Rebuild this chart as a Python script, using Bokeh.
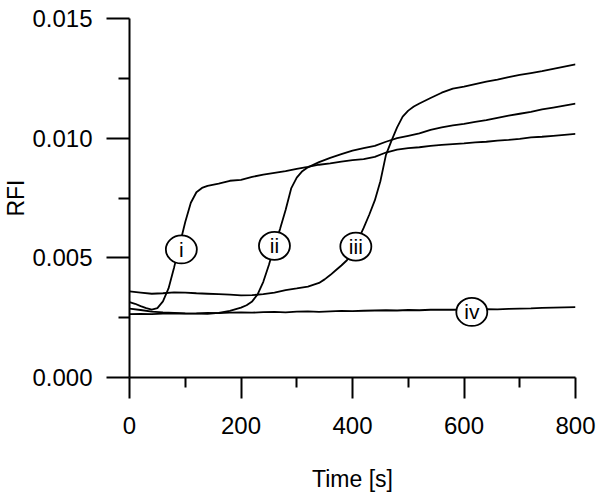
from bokeh.plotting import figure
from bokeh.models import Range1d, FixedTicker, PrintfTickFormatter
from bokeh.core.properties import value
from bokeh.embed import file_html
from bokeh.resources import INLINE

# ---- data ----
t_i = [0, 10, 20, 30, 40, 50, 60, 70, 80, 90, 100, 110, 120, 130, 140, 160, 180, 200, 220, 240,
       260, 280, 300, 320, 340, 360, 380, 400, 420, 440, 460, 480, 500, 520, 540, 560, 580, 600,
       620, 640, 660, 680, 700, 720, 740, 760, 780, 800]
rfi_i = [0.00315, 0.00308, 0.00298, 0.00290, 0.00284, 0.00290, 0.00318, 0.00372, 0.00460, 0.00555,
         0.00650, 0.00730, 0.00774, 0.00792, 0.00801, 0.00810, 0.00822, 0.00826, 0.00838, 0.00848,
         0.00855, 0.00862, 0.00872, 0.00880, 0.00889, 0.00895, 0.00902, 0.00908, 0.00912, 0.00922,
         0.00940, 0.00952, 0.00958, 0.00962, 0.00968, 0.00972, 0.00975, 0.00978, 0.00982, 0.00985,
         0.00990, 0.00993, 0.00997, 0.01003, 0.01006, 0.01010, 0.01014, 0.01018]

t_ii = [0, 20, 40, 60, 80, 100, 120, 140, 160, 180, 200, 210, 220, 230, 240, 250, 260, 270, 280,
        290, 300, 310, 320, 340, 360, 380, 400, 420, 440, 460, 480, 500, 520, 540, 560, 580, 600,
        620, 640, 660, 680, 700, 720, 740, 760, 780, 800]
rfi_ii = [0.00288, 0.00282, 0.00275, 0.00272, 0.00270, 0.00268, 0.00267, 0.00266, 0.00270, 0.00278,
          0.00292, 0.00302, 0.00318, 0.00348, 0.00400, 0.00470, 0.00550, 0.00620, 0.00700, 0.00790,
          0.00835, 0.00862, 0.00878, 0.00900, 0.00918, 0.00933, 0.00948, 0.00958, 0.00968, 0.00985,
          0.01000, 0.01010, 0.01020, 0.01035, 0.01045, 0.01053, 0.01060, 0.01068, 0.01075, 0.01085,
          0.01094, 0.01102, 0.01110, 0.01120, 0.01128, 0.01136, 0.01144]

t_iii = [0, 20, 40, 60, 80, 100, 120, 140, 160, 180, 200, 220, 240, 260, 280, 300, 320, 340, 350,
         360, 370, 380, 390, 400, 410, 420, 430, 440, 450, 460, 470, 480, 490, 500, 510, 520, 540,
         560, 580, 600, 620, 640, 660, 680, 700, 720, 740, 760, 780, 800]
rfi_iii = [0.00360, 0.00355, 0.00350, 0.00352, 0.00356, 0.00355, 0.00352, 0.00350, 0.00348, 0.00346,
           0.00343, 0.00344, 0.00348, 0.00355, 0.00365, 0.00372, 0.00380, 0.00395, 0.00410, 0.00428,
           0.00448, 0.00468, 0.00490, 0.00520, 0.00575, 0.00625, 0.00680, 0.00740, 0.00820, 0.00930,
           0.00990, 0.01045, 0.01090, 0.01115, 0.01132, 0.01145, 0.01168, 0.01190, 0.01207, 0.01215,
           0.01226, 0.01236, 0.01245, 0.01255, 0.01264, 0.01272, 0.01280, 0.01290, 0.01299, 0.01308]

t_iv = [0, 20, 40, 60, 80, 100, 120, 140, 160, 180, 200, 220, 240, 260, 280, 300, 320, 340, 360,
        380, 400, 420, 440, 460, 480, 500, 520, 540, 560, 580, 600, 620, 640, 660, 680, 700, 720,
        740, 760, 780, 800]
rfi_iv = [0.00265, 0.00266, 0.00265, 0.00267, 0.00268, 0.00267, 0.00268, 0.00270, 0.00269, 0.00271,
          0.00272, 0.00271, 0.00273, 0.00274, 0.00272, 0.00275, 0.00276, 0.00274, 0.00276, 0.00278,
          0.00277, 0.00279, 0.00280, 0.00281, 0.00280, 0.00282, 0.00281, 0.00283, 0.00284, 0.00283,
          0.00284, 0.00285, 0.00286, 0.00285, 0.00287, 0.00288, 0.00289, 0.00291, 0.00292, 0.00293,
          0.00294]

label_text = ["i", "ii", "iii", "iv"]
label_t = [93, 260, 406, 614]
label_rfi = [0.00535, 0.00550, 0.00547, 0.00274]

x_ticks = [0, 200, 400, 600, 800]
x_minor = [100, 300, 500, 700]
y_ticks = [0.0, 0.005, 0.010, 0.015]
y_minor = [0.0025, 0.0075, 0.0125]

FONT = "Liberation Sans"

p = figure(width=600, height=496, x_range=Range1d(0, 800), y_range=Range1d(0, 0.015),
           output_backend="svg", toolbar_location=None,
           min_border_left=128, min_border_right=25, min_border_top=18, min_border_bottom=119)
p.outline_line_color = None
p.grid.visible = False
p.background_fill_color = "white"
p.border_fill_color = "white"

for xs, ys in [(t_iv, rfi_iv), (t_iii, rfi_iii), (t_ii, rfi_ii), (t_i, rfi_i)]:
    p.line(xs, ys, line_color="black", line_width=1.8)

p.ellipse(x=label_t, y=label_rfi, width=31, height=28, width_units="screen", height_units="screen",
          fill_color="white", line_color="black", line_width=1.8)
p.text(x=label_t, y=label_rfi, text=label_text, text_align="center", text_baseline="middle",
       text_font=value(FONT), text_font_size="21px", text_color="black")

xa = p.xaxis[0]
xa.ticker = FixedTicker(ticks=x_ticks, minor_ticks=x_minor)
ya = p.yaxis[0]
ya.ticker = FixedTicker(ticks=y_ticks, minor_ticks=y_minor)
ya.formatter = PrintfTickFormatter(format="%.3f")

xa.axis_label = "Time [s]"
ya.axis_label = "RFI"

for ax, tout, mout in [(xa, 21, 10), (ya, 23, 11)]:
    ax.axis_line_color = "black"
    ax.axis_line_width = 2
    ax.major_tick_line_color = "black"
    ax.major_tick_line_width = 2
    ax.minor_tick_line_color = "black"
    ax.minor_tick_line_width = 2
    ax.major_tick_in = 0
    ax.minor_tick_in = 0
    ax.major_tick_out = tout
    ax.minor_tick_out = mout
    ax.major_label_text_font = FONT
    ax.major_label_text_font_size = "24px"
    ax.major_label_text_color = "black"
    ax.axis_label_text_font = FONT
    ax.axis_label_text_font_size = "23px"
    ax.axis_label_text_font_style = "normal"
    ax.axis_label_text_color = "black"

xa.major_label_standoff = 18
xa.axis_label_standoff = 29
ya.major_label_standoff = 14
ya.axis_label_standoff = 0

open("out.html", "w").write(file_html(p, INLINE))
